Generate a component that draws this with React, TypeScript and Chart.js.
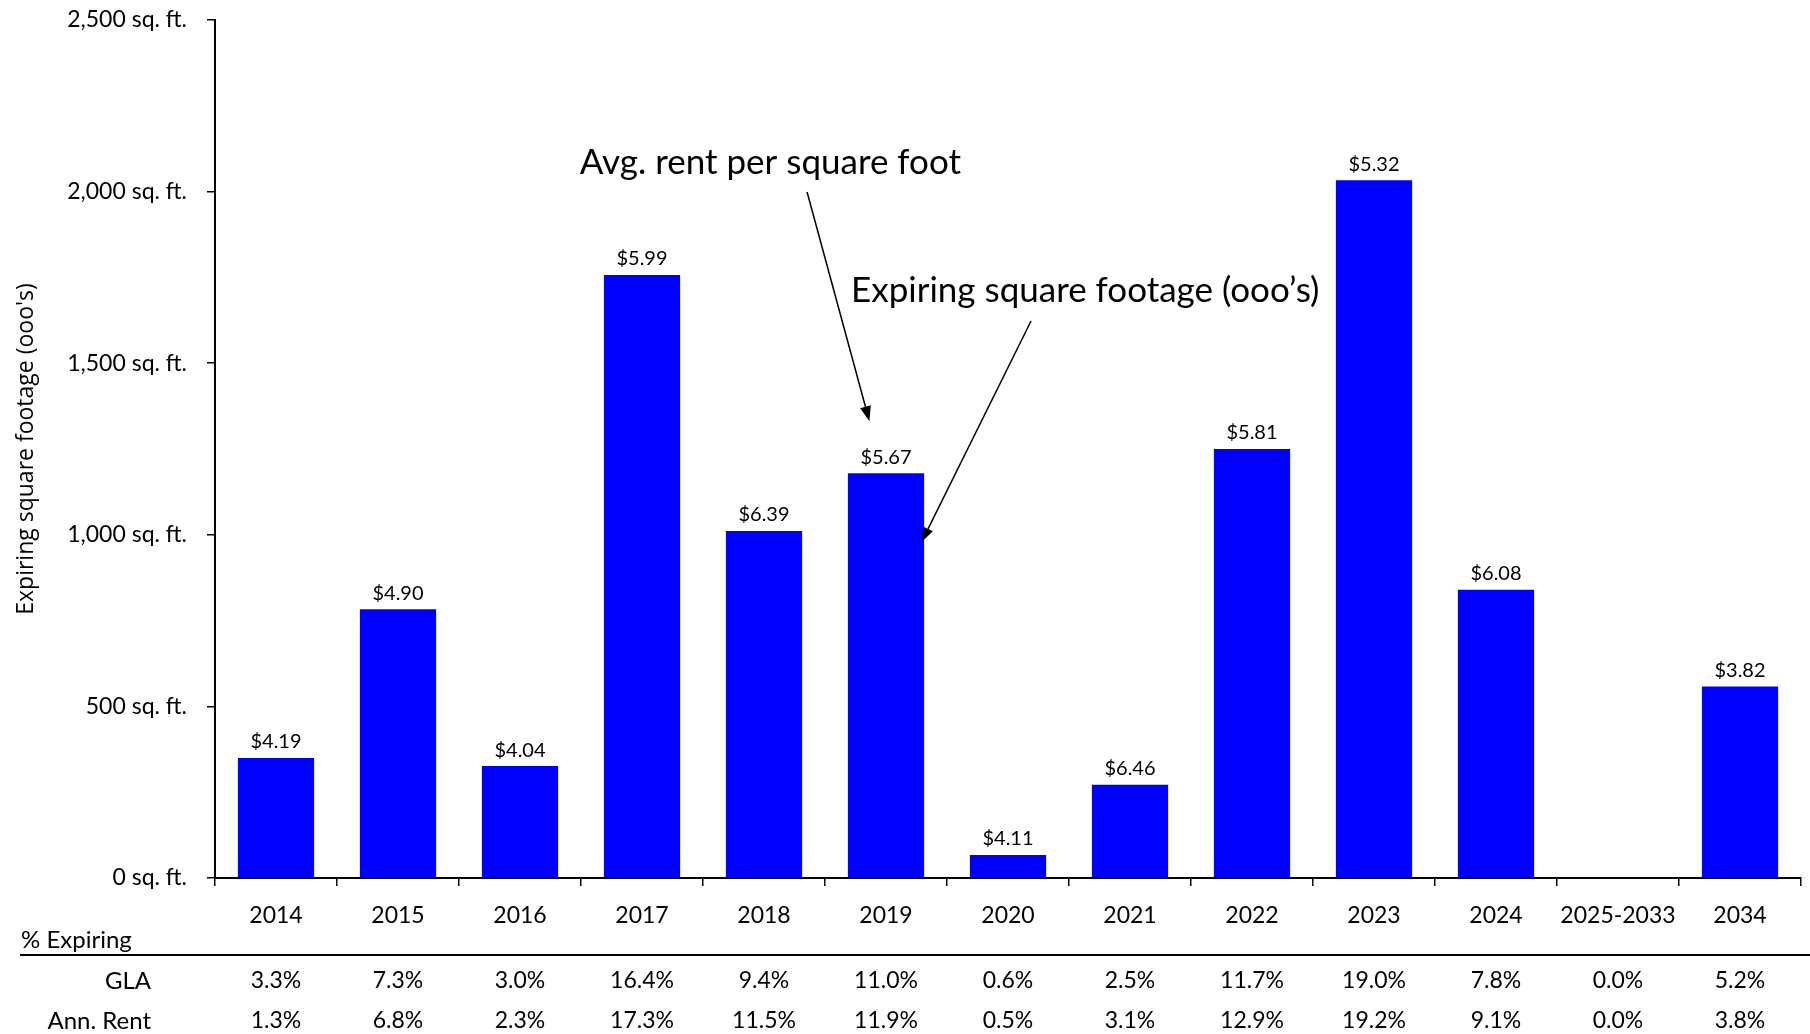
import React, { useEffect, useRef } from "react";
import { Chart, registerables } from "chart.js";

Chart.register(...registerables);

// Lease expiration schedule
const categories = ["2014", "2015", "2016", "2017", "2018", "2019", "2020", "2021", "2022", "2023", "2024", "2025-2033", "2034"];
const expiringSqFt = [350, 783, 326, 1757, 1011, 1179, 67, 272, 1250, 2033, 840, 0, 558];
const avgRentPerSqFt: (number | null)[] = [4.19, 4.9, 4.04, 5.99, 6.39, 5.67, 4.11, 6.46, 5.81, 5.32, 6.08, null, 3.82];
const glaPct = [3.3, 7.3, 3.0, 16.4, 9.4, 11.0, 0.6, 2.5, 11.7, 19.0, 7.8, 0.0, 5.2];
const annRentPct = [1.3, 6.8, 2.3, 17.3, 11.5, 11.9, 0.5, 3.1, 12.9, 19.2, 9.1, 0.0, 3.8];
const yTicks = [0, 500, 1000, 1500, 2000, 2500];

const FONT = "Lato, 'Open Sans', sans-serif";
const TITLE_FONT = "'Open Sans', Lato, sans-serif";
const INK = "#000000";
const BAR_BLUE = "#0000FF";

// Callouts placed in data space: x as category index, y as square footage
const callouts = [
  { text: "Avg. rent per square foot", x: 2.49, y: 2083, fromX: 4.353, fromY: 1999, toX: 4.864, toY: 1331 },
  { text: "Expiring square footage (ooo\u2019s)", x: 4.713, y: 1710, fromX: 6.189, fromY: 1623, toX: 5.29, toY: 978 },
];

const barLabelsPlugin = {
  id: "barLabels",
  afterDatasetsDraw(chart: any) {
    const ctx = chart.ctx;
    const meta = chart.getDatasetMeta(0);
    ctx.save();
    ctx.font = `20px ${FONT}`;
    ctx.fillStyle = INK;
    ctx.textAlign = "center";
    ctx.textBaseline = "middle";
    meta.data.forEach((bar: any, i: number) => {
      const rent = avgRentPerSqFt[i];
      if (rent === null) return;
      ctx.fillText(`$${rent.toFixed(2)}`, bar.x, bar.y - 16);
    });
    ctx.restore();
  },
};

const calloutPlugin = {
  id: "callouts",
  afterDraw(chart: any) {
    const { ctx, scales } = chart;
    const xs = scales.x;
    const ys = scales.y;
    ctx.save();
    ctx.fillStyle = INK;
    ctx.strokeStyle = INK;
    ctx.font = `35px ${FONT}`;
    ctx.textAlign = "left";
    ctx.textBaseline = "middle";
    callouts.forEach((c) => {
      ctx.fillText(c.text, xs.getPixelForValue(c.x), ys.getPixelForValue(c.y));
      const x1 = xs.getPixelForValue(c.fromX);
      const y1 = ys.getPixelForValue(c.fromY);
      const x2 = xs.getPixelForValue(c.toX);
      const y2 = ys.getPixelForValue(c.toY);
      const ang = Math.atan2(y2 - y1, x2 - x1);
      const headLen = 15;
      const headHalf = 5.5;
      const bx = x2 - headLen * Math.cos(ang);
      const by = y2 - headLen * Math.sin(ang);
      ctx.lineWidth = 1.5;
      ctx.beginPath();
      ctx.moveTo(x1, y1);
      ctx.lineTo(bx, by);
      ctx.stroke();
      ctx.beginPath();
      ctx.moveTo(x2, y2);
      ctx.lineTo(bx + headHalf * Math.sin(ang), by - headHalf * Math.cos(ang));
      ctx.lineTo(bx - headHalf * Math.sin(ang), by + headHalf * Math.cos(ang));
      ctx.closePath();
      ctx.fill();
    });
    ctx.restore();
  },
};

const tablePlugin = {
  id: "expiringTable",
  afterDraw(chart: any) {
    const { ctx, chartArea, scales, width } = chart;
    const xs = scales.x;
    const base = chartArea.bottom;
    ctx.save();
    ctx.fillStyle = INK;
    ctx.textBaseline = "middle";

    ctx.font = `24px ${FONT}`;
    ctx.textAlign = "left";
    ctx.fillText("% Expiring", 21, base + 62);

    ctx.strokeStyle = INK;
    ctx.lineWidth = 2;
    ctx.beginPath();
    ctx.moveTo(20, base + 77);
    ctx.lineTo(width, base + 77);
    ctx.stroke();

    const rows = [
      { label: "GLA", values: glaPct, dy: 103 },
      { label: "Ann. Rent", values: annRentPct, dy: 143 },
    ];
    rows.forEach((row) => {
      ctx.font = `24px ${FONT}`;
      ctx.textAlign = "right";
      ctx.fillText(row.label, 151, base + row.dy);
      ctx.font = `23px ${FONT}`;
      ctx.textAlign = "center";
      row.values.forEach((v, i) => {
        ctx.fillText(`${v.toFixed(1)}%`, xs.getPixelForValue(i), base + row.dy);
      });
    });
    ctx.restore();
  },
};

export default function App() {
  const canvasRef = useRef<HTMLCanvasElement | null>(null);

  useEffect(() => {
    document.body.style.margin = "0";
    const canvas = canvasRef.current;
    if (!canvas) return;
    const chart = new Chart(canvas, {
      type: "bar",
      data: {
        labels: categories,
        datasets: [
          {
            label: "Expiring square footage (000's)",
            data: expiringSqFt,
            backgroundColor: BAR_BLUE,
            borderWidth: 0,
            barPercentage: 0.625,
            categoryPercentage: 1,
          },
        ],
      },
      options: {
        animation: false,
        responsive: false,
        devicePixelRatio: 1,
        layout: { padding: { top: 20, right: 9, left: 0, bottom: 0 } },
        plugins: {
          legend: { display: false },
          tooltip: { enabled: false },
        },
        scales: {
          x: {
            grid: {
              offset: true,
              drawOnChartArea: false,
              drawTicks: true,
              tickLength: 8,
              color: INK,
              lineWidth: 1.5,
            },
            border: { color: INK, width: 2 },
            ticks: {
              color: INK,
              font: { family: FONT, size: 23 },
              padding: 16,
              maxRotation: 0,
              autoSkip: false,
            },
            afterFit(scale: any) {
              scale.height = 156;
            },
          },
          y: {
            min: 0,
            max: 2500,
            afterBuildTicks(scale: any) {
              scale.ticks = yTicks.map((v) => ({ value: v }));
            },
            grid: {
              drawOnChartArea: false,
              drawTicks: true,
              tickLength: 8,
              color: INK,
              lineWidth: 1.5,
            },
            border: { color: INK, width: 2 },
            ticks: {
              color: INK,
              font: { family: FONT, size: 23 },
              padding: 20,
              callback: (v: any) => `${Number(v).toLocaleString("en-US")} sq. ft.`,
            },
            title: {
              display: true,
              text: "Expiring square footage (ooo's)",
              color: INK,
              font: { family: TITLE_FONT, size: 23 },
              padding: { top: 13, bottom: 0 },
            },
            afterFit(scale: any) {
              scale.width = 215;
              // the layout padding alone sets the plot's top edge
              scale.paddingTop = 0;
              scale.paddingBottom = 0;
            },
          },
        },
      },
      plugins: [barLabelsPlugin, calloutPlugin, tablePlugin],
    });
    return () => chart.destroy();
  }, []);

  return (
    <div style={{ position: "absolute", left: 0, top: 0, width: 1810, height: 1034, background: "#fff" }}>
      <canvas ref={canvasRef} width={1810} height={1034} />
    </div>
  );
}
